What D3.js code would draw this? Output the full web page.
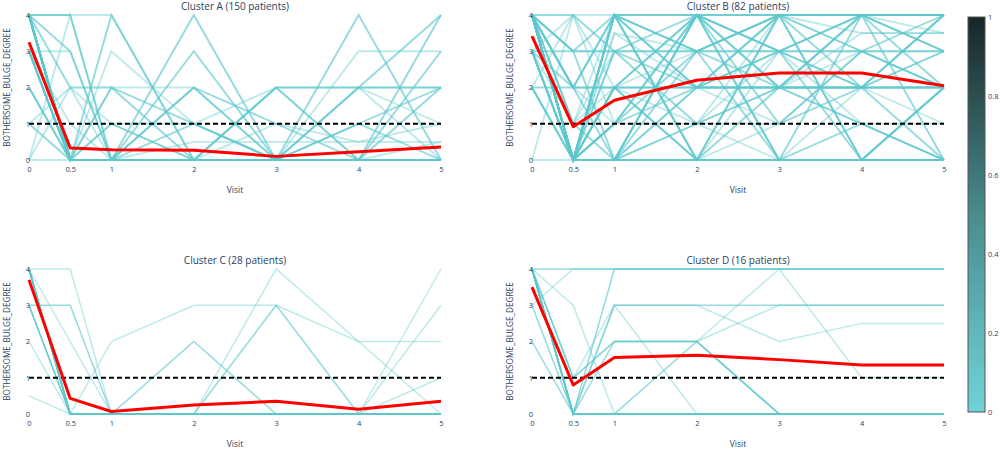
<!DOCTYPE html>
<html><head><meta charset="utf-8">
<script src="https://cdn.jsdelivr.net/npm/d3@7"></script>
<style>body{margin:0;background:#fff}svg{display:block;font-family:"Open Sans",sans-serif}</style>
</head><body>
<svg id="c" width="1000" height="450"></svg>
<script>
const visits = [0, 0.5, 1, 2, 3, 4, 5];
const xTickLabels = ["0", "0.5", "1", "2", "3", "4", "5"];
const yTicks = [0, 1, 2, 3, 4];
const threshold = 1;
const clusterTitles = ["Cluster A (150 patients)", "Cluster B (82 patients)", "Cluster C (28 patients)", "Cluster D (16 patients)"];
const yAxisTitle = "BOTHERSOME_BULGE_DEGREE";
const xAxisTitle = "Visit";
const colorbarTicks = [0, 0.2, 0.4, 0.6, 0.8, 1];

// cluster mean trajectories (red)
const meanA = [3.25, 0.33, 0.28, 0.27, 0.10, 0.23, 0.36];
const meanB = [3.42, 0.92, 1.65, 2.20, 2.40, 2.40, 2.05];
const meanC = [3.70, 0.43, 0.07, 0.25, 0.35, 0.13, 0.35];
const meanD = [3.50, 0.80, 1.56, 1.62, 1.50, 1.35, 1.35];

// individual patient trajectories
const patientsA = [
  [4,4,4,0,0,0,0],[4,4,0,0,0,0,0],[4,3,0,0,0,0,0],[4,0,0,0,0,0,0],[4,0,0,0,0,0,0],
  [4,0,2,0,0,0,0],[4,0,4,0,0,0,0],[4,0,0,4,0,0,0],[4,0,0,3,0,0,0],[4,0,0,2,0,0,0],
  [3,3,0,0,0,0,0],[3,0,0,0,0,0,0],[3,0,3,1,0,0,0],[2,0,0,0,0,0,0],[1,0,0,0,0,0,0],
  [1,2,2,2,0,0,0],[0,2,2,1,2,2,2],[0,4,0,0,0,0,0],[0,0,0,0,0,0,0],[3,0,1,0,0,1,0],
  [4,0,0,0,2,0,0],[4,0,0,0,2,2,2],[4,0,0,0,0,4,0],[4,0,0,0,0,2,4],[4,0,0,0,0,0,4],
  [4,0,0,0,0,0,3],[3,0,0,0,0,3,3],[4,0,0,0,1,0.5,1],[4,0,0,0.5,0.5,0.5,0.5],[4,0,0,1,0,1,2],
  [4,0,1,0,0,0,0],[3,0,0,0,0,2,0],[4,0,0,0,0,0,2],[2,0,0,2,1,0,0],[4,2,1,1,0,2,1],
  [3,1,0,0,2,0,0],[4,0,2,1,0,0,0.5],[4,2,0,0,0,1,0],[4,0,0,0,0,0,0],[3,0,0,0,0,0,0]
];
const toneA = [1,2,2,3,3,2,2,2,2,2,1,2,1,2,2,1,1,1,1,1,2,2,2,2,2,2,1,1,1,2,2,1,2,2,1,1,1,1,3,3];

const patientsB = [
  [4,0,0,0,0,0,0],[4,0,4,4,4,4,4],[4,0,2,4,4,4,4],[4,0,1,3,4,4,4],[4,0,3,2,3,4,4],
  [4,0,4,2,2,2,2],[4,0,0,4,0,4,0],[4,0,2,0,4,2,3],[4,1,4,3,3,3,3],[4,1,2,3,2,3,2],
  [4,1,3,4,3,2,1],[4,2,0,1,2,4,4],[4,2,4,0,0,0,0],[4,2,1,2,3,4,3],[4,3,4,2,4,4,4],
  [4,3,0,4,0,1,0],[4,4,3,3,4,3,2],[4,4,2,1,1,2,0],[4,0,0,2,4,0,2],[4,0,3.5,3,2,3.5,3.5],
  [4,0,1,4,1,3,4],[4,2,2,2,2,2,2],[3,3,3,3,3,3,3],[3,0,4,4,2,1,0],[3,0,2,0,2,4,3],
  [3,0,0,3,4,0,0],[3,1,0,2,3,4,2],[3,4,1,1,3,2,4],[3,2,4,3,0,0,2],[3,0,3,4,3,1,1],
  [3,0,0,0,4,4,3],[2,2,2,2,2,2,2],[2,0,4,3,4,3,2],[2,4,3,1,0,2,3],[2,0,1,2,2,4,3.5],
  [2,0,0,4,3,2,4],[0,0,0,0,0,0,0],[0,4,4,0,3,4,2],[4,0,3.5,2,1,2,0],[4,1,0,0,1,3,2],
  [4,0,2,4,2,2,4],[4,3,3,1,4,3.5,3.5],[4,0,4,0,0,0,0],[4,0,1,4,3,0,2],[4,0,0,1,2,1,0]
];
const toneB = [2,2,2,2,2,2,2,2,1,1,1,2,2,1,2,2,1,1,2,1,2,2,2,2,2,2,1,1,2,1,2,2,2,1,1,2,1,1,1,1,2,1,2,2,1];

const patientsC = [
  [4,4,0,0,0,0,0],[4,0,0,0,0,0,0],[3,3,0,0,0,0,0],[3,0,0,0,0,0,0],[4,0,0,0,0,0,0],
  [2,0,0,0,0,0,0],[4,2,0,0,0,0,0],[0.5,0,2,3,3,2,2],[4,0,0,2,0,0,0],[4,0,0,0,4,2,0],
  [4,0,0,0,3,0,4],[3,0,0,0,3,0,3],[4,0,0,0,0,0,1],[4,0,0,0,0,0,0]
];
const toneC = [1,3,2,3,3,1,1,1,2,1,1,1,1,3];

const patientsD = [
  [4,4,4,4,4,4,4],[3,4,4,4,4,4,4],[4,0,4,4,4,4,4],[4,0,3,3,3,3,3],[4,1,3,3,2,2.5,2.5],
  [4,1,2,2,0,0,0],[4,0,3,0,0,0,0],[4,3,0,0,0,0,0],[4,0,0,2,4,1,1],[4,0,0,2,3,3,3],
  [2,0,0,0,0,0,0],[3,0,0,0,0,0,0],[4,0,0,0,0,0,0],[4,1,2,2,0,0,0],[4,0,0,0,0,0,0],[4,0,2,2,0,0,0]
];
const toneD = [2,1,2,2,1,2,1,1,1,1,2,2,3,1,3,2];

const panels = [
  {title: clusterTitles[0], pts: patientsA, tone: toneA, mean: meanA, left: 29, top: 15, w: 1.9},
  {title: clusterTitles[1], pts: patientsB, tone: toneB, mean: meanB, left: 532, top: 15, w: 1.9},
  {title: clusterTitles[2], pts: patientsC, tone: toneC, mean: meanC, left: 29, top: 269, w: 1.5},
  {title: clusterTitles[3], pts: patientsD, tone: toneD, mean: meanD, left: 532, top: 269, w: 1.5}
];
const PW = 412, PH = 145;
const txt = "#2a3f5f";
const svg = d3.select("#c");
const toneOpacity = d3.scaleOrdinal().domain([1,2,3]).range([0.4, 0.65, 0.9]);
const colorScale = d3.scaleLinear().domain([0, 0.5, 1]).range(["#6fd3d8", "#4a8c8f", "#172627"]);

panels.forEach(p => {
  const x = d3.scaleLinear().domain([0, 5]).range([p.left, p.left + PW]);
  const y = d3.scaleLinear().domain([0, 4]).range([p.top + PH, p.top]);
  const g = svg.append("g");
  const line = d3.line().x((d, i) => x(visits[i])).y(d => y(d));

  g.selectAll("path.pt").data(p.pts).join("path")
    .attr("d", line).attr("fill", "none")
    .attr("stroke", "#5cc8cd").attr("stroke-width", p.w)
    .attr("stroke-opacity", (d, i) => toneOpacity(p.tone[i]));

  g.append("line").attr("x1", x(0)).attr("x2", x(5)).attr("y1", y(threshold)).attr("y2", y(threshold))
    .attr("stroke", "#000").attr("stroke-width", 1.8).attr("stroke-dasharray", "5,3");

  g.append("path").datum(p.mean).attr("d", line).attr("fill", "none")
    .attr("stroke", "#ff0000").attr("stroke-width", 3).attr("stroke-linejoin", "round");

  const xa = g.append("g").attr("transform", `translate(0,${p.top + PH + 1})`)
    .call(d3.axisBottom(x).tickValues(visits).tickSize(0).tickPadding(6).tickFormat((d, i) => xTickLabels[i]));
  xa.select(".domain").remove();
  xa.selectAll("text").attr("fill", txt).attr("font-size", 7.5).attr("font-family", "Open Sans");

  const ya = g.append("g").attr("transform", `translate(${p.left + 1},0)`)
    .call(d3.axisLeft(y).tickValues(yTicks).tickSize(0).tickPadding(0).tickFormat(d3.format("d")));
  ya.select(".domain").remove();
  ya.selectAll("text").attr("fill", txt).attr("font-size", 7.5).attr("font-family", "Open Sans");

  g.append("text").attr("x", p.left + PW / 2).attr("y", p.top - 5).attr("text-anchor", "middle")
    .attr("font-size", 10).attr("fill", txt).text(p.title);
  g.append("text").attr("x", p.left + PW / 2).attr("y", p.top + PH + 33).attr("text-anchor", "middle")
    .attr("font-size", 8.5).attr("fill", txt).text(xAxisTitle);
  g.append("text").attr("transform", `translate(${p.left - 19},${p.top + PH / 2}) rotate(-90)`)
    .attr("text-anchor", "middle").attr("font-size", 8.2).attr("fill", txt).text(yAxisTitle);
});

// colorbar
const cbX = 968, cbW = 17, cbTop = 17, cbBot = 412;
const defs = svg.append("defs");
const grad = defs.append("linearGradient").attr("id", "cbg").attr("x1", 0).attr("x2", 0).attr("y1", 1).attr("y2", 0);
[0, 0.25, 0.5, 0.75, 1].forEach(t => grad.append("stop").attr("offset", t).attr("stop-color", colorScale(t)));
svg.append("rect").attr("x", cbX).attr("y", cbTop).attr("width", cbW).attr("height", cbBot - cbTop)
  .attr("fill", "url(#cbg)").attr("stroke", "#555").attr("stroke-width", 1);
const cy = d3.scaleLinear().domain([0, 1]).range([cbBot, cbTop]);
const ca = svg.append("g").attr("transform", `translate(${cbX + cbW},0)`)
  .call(d3.axisRight(cy).tickValues(colorbarTicks).tickSize(0).tickPadding(3).tickFormat(d => String(d)));
ca.select(".domain").remove();
ca.selectAll("text").attr("fill", txt).attr("font-size", 7.5).attr("font-family", "Open Sans");
</script>
</body></html>
